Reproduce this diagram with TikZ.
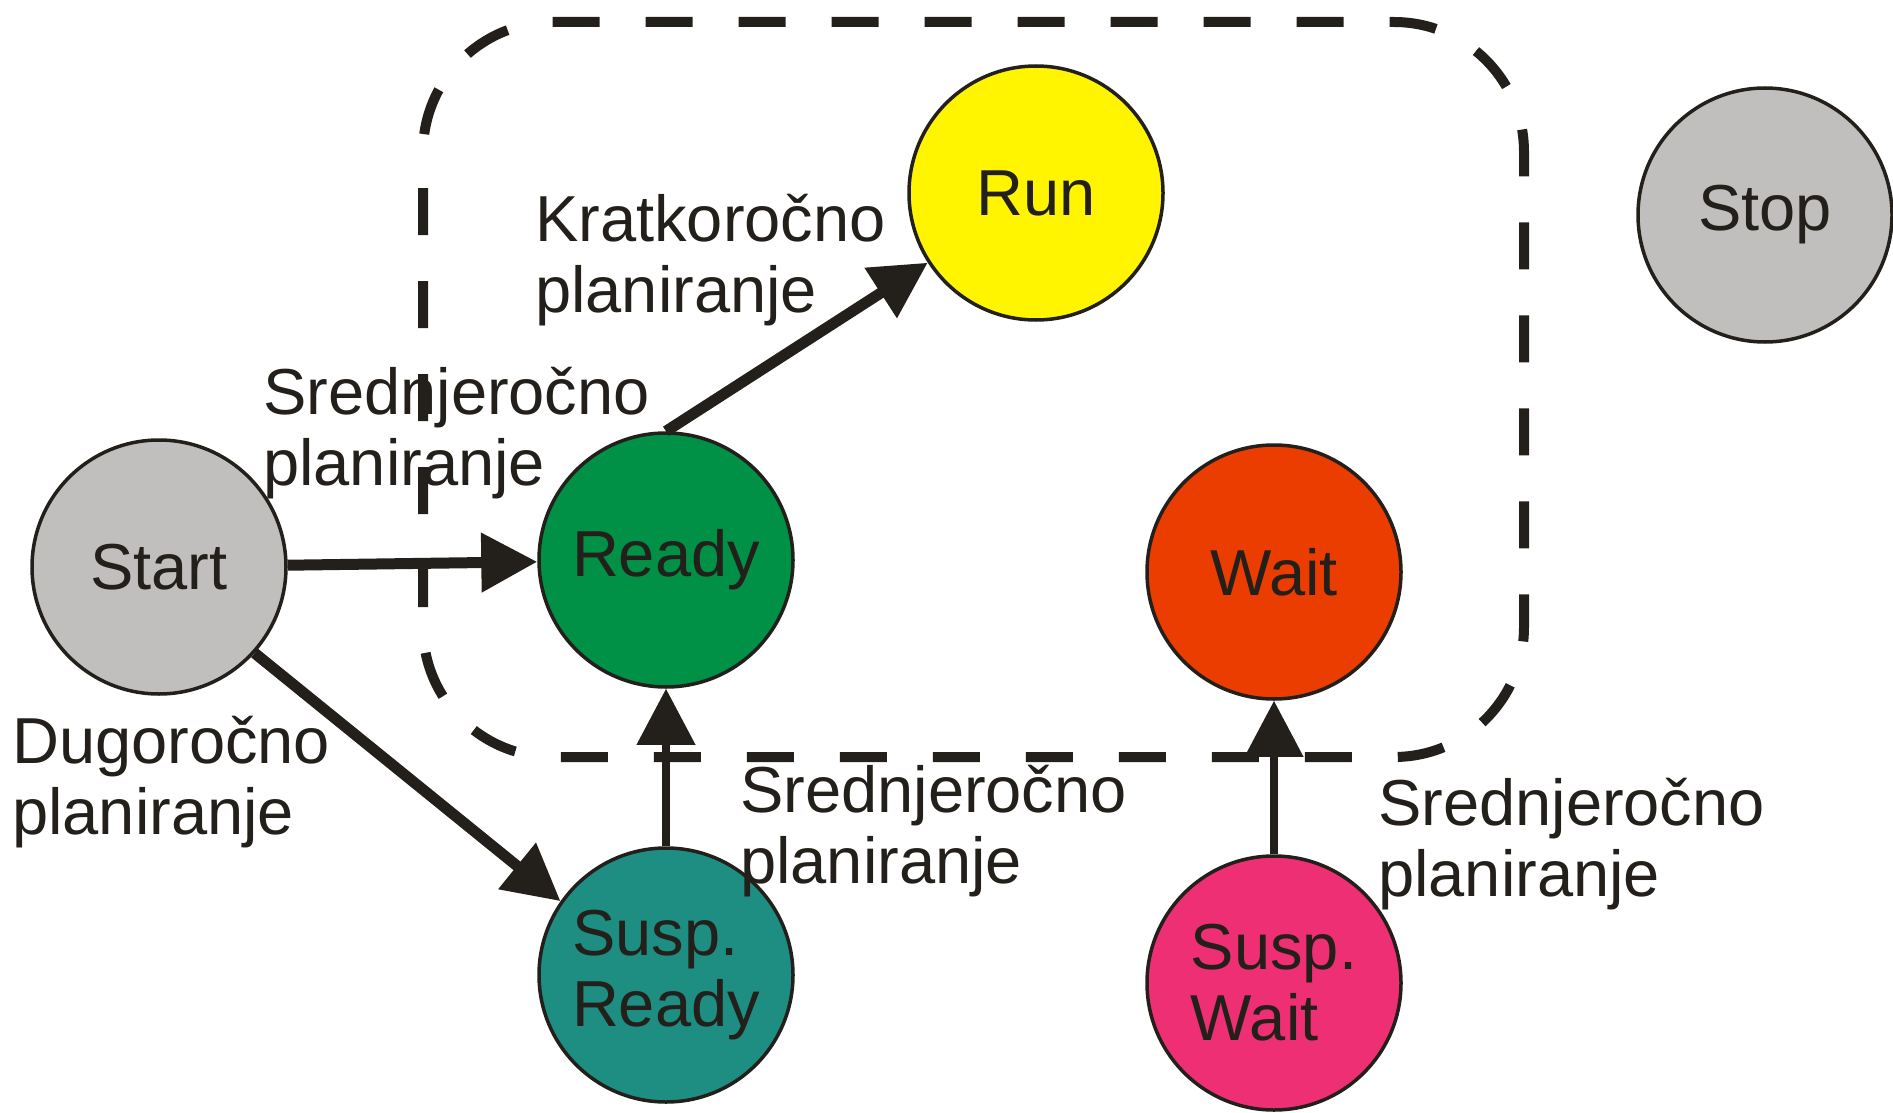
\documentclass[tikz,border=0pt]{standalone}
\usepackage{fontspec}
\setmainfont{Liberation Sans}
\usetikzlibrary{positioning, arrows.meta}

\definecolor{ink}{RGB}{35,31,26}
\definecolor{idlegray}{RGB}{192,191,190}
\definecolor{readygreen}{RGB}{0,144,70}
\definecolor{runyellow}{RGB}{255,245,0}
\definecolor{waitred}{RGB}{235,61,0}
\definecolor{suspteal}{RGB}{30,142,130}
\definecolor{susppink}{RGB}{239,47,116}

\begin{document}
\begin{tikzpicture}[
    x=1pt, y=-1pt,
    >={Triangle[length=56pt, width=57pt]},
    node distance=411pt,
    on grid,
    every node/.style={
        text=ink,
        font=\fontsize{65}{71}\selectfont
    },
    proc/.style={
        draw=ink,
        circle,
        line width=3.5pt,
        minimum size=254pt,
        inner sep=0pt,
        align=left
    },
    note/.style={anchor=base west, align=left, inner sep=0pt},
    flow/.style={->, draw=ink, line width=11pt},
    thinflow/.style={->, draw=ink, line width=7.5pt},
    region/.style={
        draw=ink,
        line width=10pt,
        dash pattern=on 47pt off 46pt,
        dash phase=57pt,
        rounded corners=130pt
    }
]

\useasboundingbox (0,0) rectangle (1893,1113);

\draw[region] (423,22) rectangle (1524,757);

\node[proc, fill=idlegray] (start) at (159,567) {Start};
\node[proc, fill=readygreen] (ready) at (666,560) {Ready};
\node[proc, fill=runyellow] (run) at (1036,193) {Run};
\node[proc, fill=idlegray] (stop) at (1765,215) {Stop};
\node[proc, fill=waitred] (wait) at (1274,572) {Wait};
\node[proc, fill=suspteal, below=415pt of ready] (suspready) {Susp.\\Ready};
\node[proc, fill=susppink, below=of wait] (suspwait) {Susp.\\Wait};

% labels: base of the last line
\node[note] (shortplan) at (535,312) {Kratkoročno\\planiranje};
\node[note] (midplan) at (263,485) {Srednjeročno\\planiranje};
\node[note] (longplan) at (12,834) {Dugoročno\\planiranje};
\node[note] (midready) at (740,883) {Srednjeročno\\planiranje};
\node[note] (midwait) at (1378,896) {Srednjeročno\\planiranje};

\path
(start) edge[flow] (ready)
(ready.north) edge[flow] (run)
(start.-42) edge[flow] (suspready.145)
(suspready.north) edge[thinflow] (ready.south)
(suspwait.north) edge[thinflow] (wait.south);

\end{tikzpicture}
\end{document}
